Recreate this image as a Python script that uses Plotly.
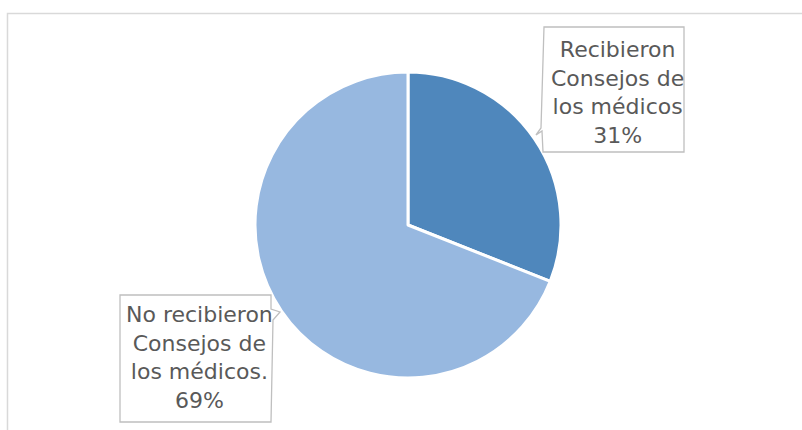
import plotly.graph_objects as go

# ---- data ----
labels = ["Recibieron Consejos de los médicos", "No recibieron Consejos de los médicos."]
values = [31, 69]
label_lines = [
    ["Recibieron", "Consejos de", "los médicos"],
    ["No recibieron", "Consejos de", "los médicos."],
]
colors = ["#4F87BC", "#97B8E0"]

W, H = 802, 430


def px(x):
    return x / W


def py(y):
    return 1 - y / H


# pie geometry (pixels)
cx, cy, r = 408, 225, 153

fig = go.Figure()
fig.add_trace(go.Pie(
    labels=labels,
    values=values,
    sort=False,
    direction="clockwise",
    rotation=0,
    marker=dict(colors=colors, line=dict(color="white", width=3)),
    textinfo="none",
    hoverinfo="label+percent",
    showlegend=False,
    domain=dict(x=[px(cx - r), px(cx + r)], y=[py(cy + r), py(cy - r)]),
))

total = sum(values)
pct = [f"{round(v / total * 100)}%" for v in values]

# callout box outlines (pixel coords), with pointer notch
boxes = [
    [(544, 27), (684, 27), (684, 152), (543, 152), (542, 131), (536, 135), (541, 128)],
    [(120, 295), (271, 295), (271, 309), (280, 312), (273, 320), (271, 422), (120, 422)],
]
text_pos = [(617, 92), (199, 357)]


def path_of(pts):
    s = "M " + " L ".join(f"{px(x):.5f},{py(y):.5f}" for x, y in pts) + " Z"
    return s


shapes = []
# outer chart border (left + top)
shapes.append(dict(
    type="path", xref="paper", yref="paper",
    path=f"M {px(7.5):.5f},{py(431):.5f} L {px(7.5):.5f},{py(13.5):.5f} L {px(803):.5f},{py(13.5):.5f}",
    line=dict(color="#D9D9D9", width=1.5),
))
for b in boxes:
    shapes.append(dict(
        type="path", xref="paper", yref="paper", path=path_of(b),
        fillcolor="white", line=dict(color="#BFBFBF", width=1.3), layer="above",
    ))

annotations = []
for lines, p, (tx, ty) in zip(label_lines, pct, text_pos):
    annotations.append(dict(
        x=px(tx), y=py(ty), xref="paper", yref="paper",
        text="<br>".join(lines + [p]),
        showarrow=False, align="center", xanchor="center", yanchor="middle",
        font=dict(family="DejaVu Sans", size=22, color="#595959"),
    ))

fig.update_layout(
    width=W, height=H, autosize=False,
    margin=dict(l=0, r=0, t=0, b=0),
    paper_bgcolor="white", plot_bgcolor="white",
    shapes=shapes, annotations=annotations,
)

fig.write_html(
    "out.html",
    config={"displayModeBar": False},
    post_script="document.body.style.margin='0';document.body.style.overflow='hidden';",
)
